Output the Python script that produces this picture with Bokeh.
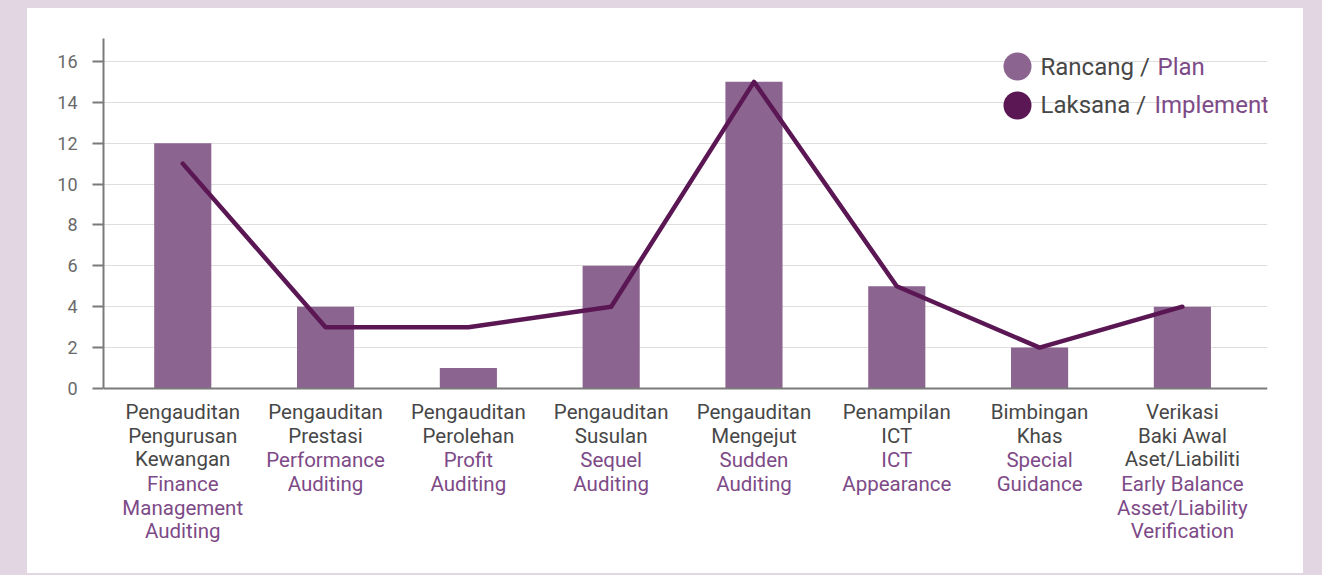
from bokeh.plotting import figure
from bokeh.models import Range1d, Label, Legend, LegendItem, FixedTicker, Span
from bokeh.embed import file_html
from bokeh.resources import INLINE

# ---- data ----
malay_labels = [
    "Pengauditan\nPengurusan\nKewangan",
    "Pengauditan\nPrestasi",
    "Pengauditan\nPerolehan",
    "Pengauditan\nSusulan",
    "Pengauditan\nMengejut",
    "Penampilan\nICT",
    "Bimbingan\nKhas",
    "Verikasi\nBaki Awal\nAset/Liabiliti",
]
english_labels = [
    "Finance\nManagement\nAuditing",
    "Performance\nAuditing",
    "Profit\nAuditing",
    "Sequel\nAuditing",
    "Sudden\nAuditing",
    "ICT\nAppearance",
    "Special\nGuidance",
    "Early Balance\nAsset/Liability\nVerification",
]
plan = [12, 4, 1, 6, 15, 5, 2, 4]
implement = [11, 3, 3, 4, 15, 5, 2, 4]
y_ticks = [0, 2, 4, 6, 8, 10, 12, 14, 16]
legend_malay = ["Rancang /", "Laksana /"]
legend_english = ["Plan", "Implement"]

# ---- style ----
BAR = "#8b6490"
LINE = "#5a1753"
GRAY_TXT = "#474747"
PURPLE_TXT = "#7d4a87"
AXIS = "#7a7a7a"
BG = "#e1d6e2"
FONT = "Roboto"

xs = list(range(len(plan)))
Y_TOP = 17.12

p = figure(width=1276, height=565, output_backend="svg", toolbar_location=None,
           x_range=Range1d(-0.555, 7.596), y_range=Range1d(-8.904, Y_TOP),
           x_axis_type=None,
           min_border_left=76, min_border_right=36, min_border_top=30,
           min_border_bottom=3)
p.margin = (8, 0, 0, 27)
p.styles = {"background-color": "white"}
p.outline_line_color = None
p.background_fill_color = "white"
p.border_fill_color = "white"

p.xgrid.visible = False
p.ygrid.grid_line_color = "#dedede"
p.ygrid.grid_line_width = 1
p.ygrid.ticker = FixedTicker(ticks=y_ticks[1:])

yax = p.yaxis[0]
yax.ticker = FixedTicker(ticks=y_ticks)
yax.bounds = (0, Y_TOP)
yax.axis_line_color = AXIS
yax.axis_line_width = 2
yax.major_tick_line_color = AXIS
yax.major_tick_line_width = 2
yax.major_tick_out = 11
yax.major_tick_in = 0
yax.minor_tick_line_color = None
yax.major_label_text_font = FONT
yax.major_label_text_font_size = "18px"
yax.major_label_text_color = "#6a6a6a"
yax.major_label_standoff = 15

# x axis line at zero
p.add_layout(Span(location=0, dimension="width", line_color=AXIS, line_width=2))

p.vbar(x=xs, top=plan, width=0.4, fill_color=BAR, line_color=None)
p.line(xs, implement, line_width=4.5, line_color=LINE, line_join="round", line_cap="round")

# category labels (two colours, multi-line)
FS = 20.5
LH = 0.969
for i in xs:
    nm = malay_labels[i].count("\n") + 1
    p.add_layout(Label(x=i, y=0, y_offset=-12, text=malay_labels[i],
                       text_align="center", text_baseline="top",
                       text_font=FONT, text_font_size="%spx" % FS,
                       text_color=GRAY_TXT, text_line_height=LH))
    p.add_layout(Label(x=i, y=0, y_offset=-12 - 24 * nm, text=english_labels[i],
                       text_align="center", text_baseline="top",
                       text_font=FONT, text_font_size="%spx" % FS,
                       text_color=PURPLE_TXT, text_line_height=LH))

# legend circles (invisible proxies carrying the legend glyph style)
r_plan = p.scatter(x=xs, y=plan, size=0, marker="circle", fill_color=BAR, line_color=None)
r_impl = p.scatter(x=xs, y=implement, size=0, marker="circle", fill_color=LINE, line_color=None)
leg_y = [503.7, 465.2]
for k, r in enumerate([r_plan, r_impl]):
    lg = Legend(items=[LegendItem(label=" ", renderers=[r])],
                location=(879, leg_y[k] - 35), glyph_width=70, glyph_height=70,
                spacing=0, label_standoff=0, padding=0, margin=0,
                border_line_color=None, background_fill_alpha=0,
                label_text_font_size="1px", label_width=1, label_height=1)
    p.add_layout(lg)
    p.add_layout(Label(x=937, y=leg_y[k], x_units="screen", y_units="screen",
                       text=legend_malay[k], text_baseline="middle",
                       text_font=FONT, text_font_size="24px", text_color=GRAY_TXT))
    p.add_layout(Label(x=[1054, 1051][k], y=leg_y[k], x_units="screen", y_units="screen",
                       text=legend_english[k], text_baseline="middle",
                       text_font=FONT, text_font_size="24px", text_color=PURPLE_TXT))

html = file_html(p, INLINE)
html = html.replace("</head>", "<style>body{background-color:%s;margin:0;}</style></head>" % BG, 1)
open("out.html", "w").write(html)
